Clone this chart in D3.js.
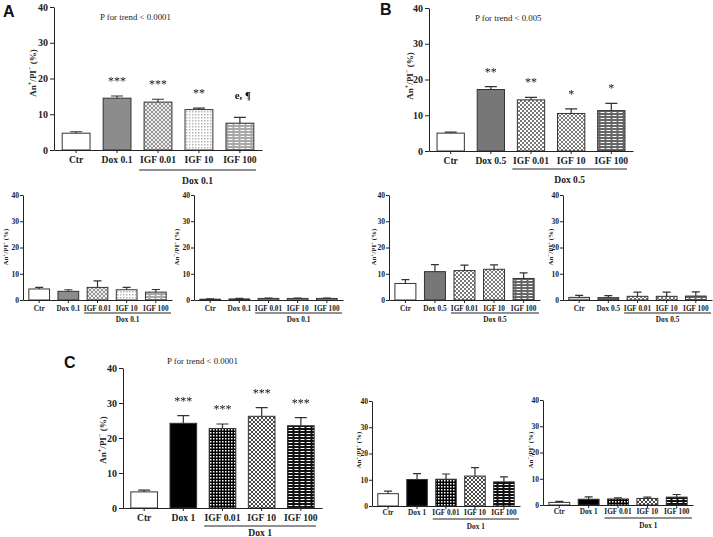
<!DOCTYPE html>
<html><head><meta charset="utf-8">
<script src="https://cdn.jsdelivr.net/npm/d3@7"></script>
<style>body{margin:0;background:#fff}svg{display:block}</style>
</head><body>
<svg id="chart" width="713" height="537"></svg>
<script>
// ---------- DATA ----------
const catsA = ["Ctr","Dox 0.1","IGF 0.01","IGF 10","IGF 100"];
const catsB = ["Ctr","Dox 0.5","IGF 0.01","IGF 10","IGF 100"];
const catsC = ["Ctr","Dox 1","IGF 0.01","IGF 10","IGF 100"];
const yTicks = [0,10,20,30,40];

const aEarly    = [4.7,14.5,13.4,11.3,7.5];
const aEarlyErr = [0.4,0.6,0.8,0.4,1.6];
const aEarlySig = ["","***","***","**","e, ¶"];
const aLate     = [4.2,3.3,4.8,3.9,3.0];
const aLateErr  = [0.6,0.6,2.5,0.9,1.0];
const aNecro    = [0.3,0.4,0.6,0.6,0.6];
const aNecroErr = [0.1,0.2,0.1,0.1,0.1];

const bEarly    = [5.0,17.2,14.3,10.5,11.3];
const bEarlyErr = [0.3,0.8,0.7,1.3,2.0];
const bEarlySig = ["","**","**","*","*"];
const bLate     = [6.3,10.8,11.2,11.7,8.2];
const bLateErr  = [1.5,2.7,2.1,1.7,2.1];
const bNecro    = [1.0,0.9,1.4,1.4,1.5];
const bNecroErr = [0.8,0.8,1.6,1.6,1.6];

const cEarly    = [4.6,24.2,22.7,26.2,23.5];
const cEarlyErr = [0.5,2.2,1.3,2.5,2.3];
const cEarlySig = ["","***","***","***","***"];
const cLate     = [4.7,10.1,10.2,11.4,9.2];
const cLateErr  = [1.0,2.2,2.0,3.2,1.9];
const cNecro    = [1.0,2.2,2.3,2.5,3.0];
const cNecroErr = [0.4,0.9,0.4,0.5,1.0];

const groupA = "Dox 0.1", groupB = "Dox 0.5", groupC = "Dox 1";
const trendA = "P for trend < 0.0001", trendB = "P for trend < 0.005", trendC = "P for trend < 0.0001";

// ---------- DRAWING ----------
const svg = d3.select("#chart");
const defs = svg.append("defs");
const gf = defs.append("filter").attr("id", "gray").attr("x", "-20%").attr("y", "-20%").attr("width", "140%").attr("height", "140%");
gf.append("feColorMatrix").attr("type", "saturate").attr("values", 0);
let pid = 0;
function pat(kind, fg, bg) {
  const id = "p" + (pid++);
  const p = defs.append("pattern").attr("id", id).attr("patternUnits", "userSpaceOnUse");
  if (kind === "check") {
    p.attr("width", 4).attr("height", 4);
    p.append("rect").attr("width", 4).attr("height", 4).attr("fill", bg);
    p.append("rect").attr("width", 2).attr("height", 2).attr("fill", fg);
    p.append("rect").attr("x", 2).attr("y", 2).attr("width", 2).attr("height", 2).attr("fill", fg);
  } else if (kind === "dots") {
    p.attr("width", 3).attr("height", 3);
    p.append("rect").attr("width", 3).attr("height", 3).attr("fill", bg);
    p.append("rect").attr("width", 1.5).attr("height", 1.5).attr("fill", fg);
  } else if (kind === "cross") {
    p.attr("width", 4).attr("height", 4);
    p.append("rect").attr("width", 4).attr("height", 4).attr("fill", bg);
    p.append("path").attr("d", "M0,0L4,4M4,0L0,4").attr("stroke", fg).attr("stroke-width", 0.9);
  } else if (kind === "dash") {
    p.attr("width", 6).attr("height", 3);
    p.append("rect").attr("width", 6).attr("height", 3).attr("fill", bg);
    p.append("rect").attr("x", 0.5).attr("y", 1).attr("width", 4).attr("height", 1).attr("fill", fg);
  }
  return `url(#${id})`;
}

const fillsA = ["#ffffff", "#8c8c8c", pat("cross", "#8a8a8a", "#eeeeee"), pat("dots", "#b5b5b5", "#ffffff"), pat("dash", "#ffffff", "#a8a8a8")];
const fillsB = ["#ffffff", "#777777", pat("check", "#7a7a7a", "#ffffff"), pat("cross", "#6a6a6a", "#ffffff"), pat("dash", "#ffffff", "#666666")];
const fillsC = ["#ffffff", "#000000", pat("dots", "#ffffff", "#000000"), pat("cross", "#333333", "#ffffff"), pat("dash", "#ffffff", "#111111")];

const SERIF = "'Liberation Serif','DejaVu Serif',serif";
const SANS = "'Liberation Sans',Arial,sans-serif";

function ylabel(g, cfg, signA, signP, fs) {
  const t = g.append("text")
    .attr("transform", `translate(${cfg.ylX},${cfg.ylY}) rotate(-90)`)
    .attr("text-anchor", "middle").attr("dominant-baseline", "central")
    .attr("font-family", SERIF).attr("font-weight", "bold").attr("font-size", fs).attr("fill", "#222");
  t.append("tspan").text("An");
  t.append("tspan").attr("baseline-shift", "super").attr("font-size", fs * 0.7).text(signA);
  t.append("tspan").text("/PI");
  t.append("tspan").attr("baseline-shift", "super").attr("font-size", fs * 0.7).text(signP);
  t.append("tspan").text(" (%)");
}

function panel(cfg) {
  const main = cfg.main;
  const g = svg.append("g");
  const y = d3.scaleLinear().domain([0, 40]).range([cfg.yBot, cfg.yTop]);
  const x = d3.scaleBand().domain(cfg.cats).range([cfg.x0, cfg.x1])
    .paddingInner(main ? 0.32 : 0.29).paddingOuter(0.2);
  const bw = x.bandwidth();
  const tickFs = main ? 10 : 7.6;
  const labFs = main ? 9.6 : 7.3;

  // y axis
  const ya = g.append("g").attr("transform", `translate(${cfg.x0},0)`)
    .call(d3.axisLeft(y).tickValues(yTicks).tickSize(main ? 4 : 3).tickSizeOuter(0).tickPadding(main ? 2 : 1));
  ya.select(".domain").attr("stroke", "#222");
  ya.selectAll(".tick line").attr("stroke", "#222");
  ya.selectAll("text").attr("font-family", SERIF).attr("font-weight", "bold").attr("font-size", tickFs).attr("fill", "#222");

  // bars
  const data = cfg.cats.map((c, i) => ({ c, v: cfg.vals[i], e: cfg.errs[i], f: cfg.fills[i], s: cfg.sig ? cfg.sig[i] : "" }));
  g.selectAll("rect.bar").data(data).join("rect").attr("class", "bar")
    .attr("x", d => x(d.c)).attr("width", bw)
    .attr("y", d => y(d.v)).attr("height", d => y(0) - y(d.v))
    .attr("fill", d => d.f).attr("stroke", "#333").attr("stroke-width", 1);
  const cap = main ? 12 : 8;
  g.selectAll("path.err").data(data).join("path").attr("class", "err")
    .attr("d", d => {
      const cx = x(d.c) + bw / 2;
      return `M${cx},${y(d.v)}V${y(d.v + d.e)}M${cx - cap / 2},${y(d.v + d.e)}H${cx + cap / 2}`;
    })
    .attr("stroke", "#333").attr("stroke-width", 1.2).attr("fill", "none");

  // significance
  if (cfg.sig) {
    g.append("g").attr("filter", "url(#gray)")
      .selectAll("text.sig").data(data.filter(d => d.s)).join("text").attr("class", "sig")
      .attr("x", d => x(d.c) + bw / 2 + (d.s.startsWith("e") ? 3 : 0))
      .attr("y", d => y(d.v + d.e) - (d.s.startsWith("e") ? 18 : 11))
      .attr("text-anchor", "middle").attr("font-family", SERIF)
      .attr("font-weight", d => d.s.startsWith("e") ? "bold" : "normal")
      .attr("font-size", d => d.s.startsWith("e") ? 11 : 12).attr("fill", "#111")
      .text(d => d.s);
  }

  // x axis
  const xa = g.append("g").attr("transform", `translate(0,${cfg.yBot})`)
    .call(d3.axisBottom(x).tickSize(3).tickSizeOuter(0));
  xa.select(".domain").attr("stroke", "#222");
  xa.selectAll(".tick line").attr("stroke", "#222");
  xa.selectAll("text").attr("y", cfg.labDy).attr("dy", 0)
    .attr("font-family", SERIF).attr("font-weight", "bold").attr("font-size", labFs).attr("fill", "#222");

  // group bracket
  const bx0 = x(cfg.cats[2]) - (main ? 5 : 3), bx1 = cfg.x1 - (main ? 6 : 1);
  g.append("line").attr("x1", bx0).attr("x2", bx1)
    .attr("y1", cfg.yBot + cfg.brDy).attr("y2", cfg.yBot + cfg.brDy)
    .attr("stroke", "#222").attr("stroke-width", 1);
  g.append("text").attr("x", (bx0 + bx1) / 2).attr("y", cfg.yBot + cfg.grDy)
    .attr("text-anchor", "middle").attr("font-family", SERIF).attr("font-weight", "bold")
    .attr("font-size", labFs).attr("fill", "#222").text(cfg.group);

  ylabel(g, cfg, cfg.signA, cfg.signP, main ? 9 : 7);

  if (cfg.trend) {
    g.append("text").attr("x", cfg.trX).attr("y", cfg.trY)
      .attr("font-family", SERIF).attr("font-size", 8.8).attr("fill", "#222").text(cfg.trend);
  }
  if (cfg.letter) {
    g.append("text").attr("x", cfg.lX).attr("y", cfg.lY)
      .attr("font-family", SANS).attr("font-weight", "bold").attr("font-size", 16).attr("fill", "#111").text(cfg.letter);
  }
}

// Panel A
panel({ main: true, cats: catsA, vals: aEarly, errs: aEarlyErr, sig: aEarlySig, fills: fillsA,
  x0: 54, x1: 262, yTop: 7, yBot: 150, labDy: 13, brDy: 20, grDy: 34, group: groupA,
  ylX: 33, ylY: 73, signA: "+", signP: "−", trend: trendA, trX: 100, trY: 20, letter: "A", lX: 3, lY: 17 });
panel({ main: false, cats: catsA, vals: aLate, errs: aLateErr, fills: fillsA,
  x0: 23, x1: 172, yTop: 195, yBot: 300, labDy: 11, brDy: 13, grDy: 22, group: groupA,
  ylX: 6, ylY: 247, signA: "+", signP: "+" });
panel({ main: false, cats: catsA, vals: aNecro, errs: aNecroErr, fills: ["#dddddd", "#333333", fillsA[4], fillsA[4], fillsA[4]],
  x0: 194, x1: 343, yTop: 195, yBot: 300, labDy: 11, brDy: 13, grDy: 22, group: groupA,
  ylX: 177, ylY: 247, signA: "−", signP: "+" });

// Panel B
panel({ main: true, cats: catsB, vals: bEarly, errs: bEarlyErr, sig: bEarlySig, fills: fillsB,
  x0: 429, x1: 633, yTop: 8, yBot: 151, labDy: 12.5, brDy: 18, grDy: 32, group: groupB,
  ylX: 410, ylY: 76, signA: "+", signP: "−", trend: trendB, trX: 475, trY: 21, letter: "B", lX: 380, lY: 15 });
panel({ main: false, cats: catsB, vals: bLate, errs: bLateErr, fills: fillsB,
  x0: 389, x1: 540, yTop: 195, yBot: 300, labDy: 11, brDy: 13, grDy: 22, group: groupB,
  ylX: 374, ylY: 247, signA: "+", signP: "+" });
panel({ main: false, cats: catsB, vals: bNecro, errs: bNecroErr, fills: ["#cccccc", "#666666", fillsB[2], fillsB[3], fillsB[4]],
  x0: 563, x1: 712, yTop: 195, yBot: 300, labDy: 11, brDy: 13, grDy: 22, group: groupB,
  ylX: 551, ylY: 247, signA: "−", signP: "+" });

// Panel C
panel({ main: true, cats: catsC, vals: cEarly, errs: cEarlyErr, sig: cEarlySig, fills: fillsC,
  x0: 123, x1: 322, yTop: 368, yBot: 508, labDy: 13, brDy: 18, grDy: 27.5, group: groupC,
  ylX: 103, ylY: 440, signA: "+", signP: "−", trend: trendC, trX: 167, trY: 364, letter: "C", lX: 64, lY: 368 });
panel({ main: false, cats: catsC, vals: cLate, errs: cLateErr, fills: fillsC,
  x0: 372, x1: 520, yTop: 401, yBot: 506, labDy: 9, brDy: 13, grDy: 23, group: groupC,
  ylX: 359, ylY: 450, signA: "+", signP: "+" });
panel({ main: false, cats: catsC, vals: cNecro, errs: cNecroErr, fills: fillsC,
  x0: 543, x1: 693, yTop: 400, yBot: 505, labDy: 9, brDy: 13, grDy: 23, group: groupC,
  ylX: 531, ylY: 450, signA: "−", signP: "+" });
</script>
</body></html>
